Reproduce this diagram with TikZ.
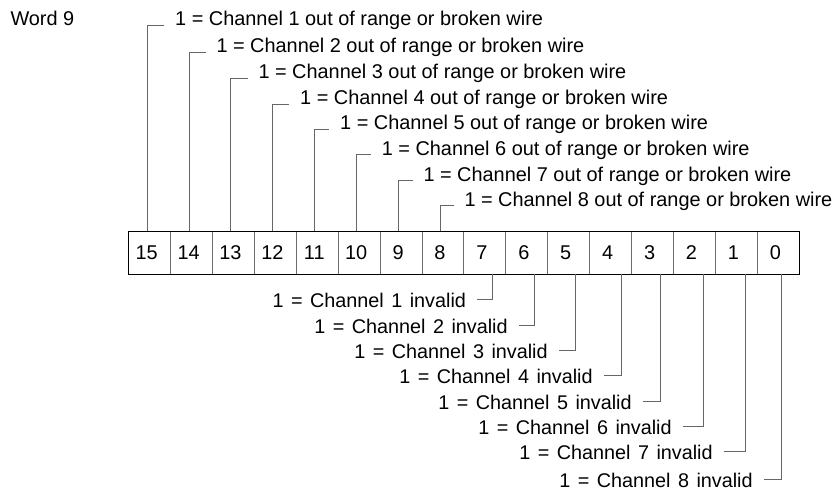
\documentclass[tikz,border=0pt]{standalone}
\usepackage{fontspec}
\setmainfont{Liberation Sans}
\newfontfamily\botfont{Liberation Sans}[WordSpace=1.36]
\begin{document}
\begin{tikzpicture}[x=1pt,y=-1pt,
  every node/.style={inner sep=0pt,outer sep=0pt,font=\fontsize{19.9pt}{22pt}\selectfont},
  cell/.style={draw=gray!85!black,line width=1pt,minimum width=41.91pt,minimum height=43pt},
  toptext/.style={anchor=base west},
  bottext/.style={anchor=base east,font=\fontsize{19.8pt}{22pt}\botfont},
  conn/.style={draw=gray!80!black,line width=1pt}]
\useasboundingbox (0,0) rectangle (835,492);

\node[anchor=base west] (word) at (10.5,26) {Word 9};

% register cells
\foreach \b in {15,...,0}{
  \pgfmathsetmacro{\cx}{128.7+41.91*(15-\b+0.5)}
  \node[cell] (c\b) at (\cx,252.5) {\b\hspace*{6pt}};
}
\draw[line width=1pt] (c15.north west) rectangle (c0.south east);

% upper labels
\foreach \i/\b/\tx/\ty in {1/15/175.2/26, 2/14/216.5/53, 3/13/258.5/79, 4/12/300.2/105,
                          5/11/340.2/130, 6/10/381.8/155, 7/9/423.5/181, 8/8/464.5/206}{
  \node[toptext] (t\i) at (\tx,\ty) {1 = Channel \i\ out of range or broken wire};
  \coordinate (k\i) at ([xshift=-11pt,yshift=0.5pt]t\i.base west);
  \draw[conn] ([xshift=-2.5pt]c\b.north) |- (k\i);
}

% lower labels
\foreach \i/\b/\off/\tx/\ty in {1/7/7.6/466/307, 2/6/8.0/507.7/333, 3/5/7.0/547.7/358,
                               4/4/11.1/592.7/383, 5/3/8.2/631.7/409, 6/2/8.6/671.7/434,
                               7/1/9.4/712.7/459, 8/0/3.2/752.7/487}{
  \node[bottext] (u\i) at (\tx,\ty) {1 = Channel \i\ invalid};
  \coordinate (m\i) at ([xshift=11pt,yshift=8pt]u\i.base east);
  \draw[conn] ([xshift=\off pt]c\b.south) |- (m\i);
}
\end{tikzpicture}
\end{document}
